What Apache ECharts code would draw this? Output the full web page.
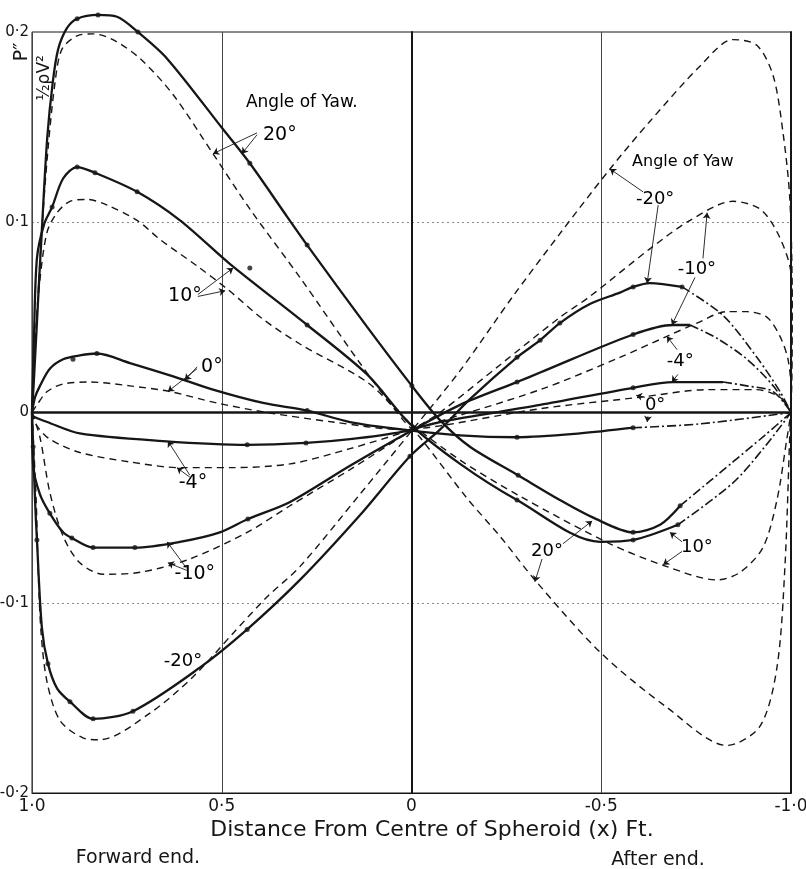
<!DOCTYPE html>
<html><head><meta charset="utf-8">
<script src="https://cdn.jsdelivr.net/npm/echarts@6/dist/echarts.min.js"></script>
<style>html,body{margin:0;padding:0;background:#fff}#c{width:806px;height:869px}</style>
</head><body><div id="c"></div>
<script>
// ---- axis ticks ----
const xTickValues = [1, 0.5, 0, -0.5, -1];
const xTickLabels = ['1·0', '0·5', '0', '-0·5', '-1·0'];
const yTickValues = [0.2, 0.1, 0, -0.1, -0.2];
const yTickLabels = ['0·2', '0·1', '0', '-0·1', '-0·2'];

// ---- +20° yaw ----
const pos20Exp = [[1,0],[0.995,0.017],[0.984,0.059],[0.974,0.096],[0.960,0.144],[0.945,0.174],[0.931,0.191],[0.908,0.202],[0.881,0.207],[0.826,0.209],[0.776,0.208],[0.721,0.200],[0.644,0.186],[0.497,0.149],[0.426,0.131],[0.328,0.103],[0.275,0.088],[0.117,0.045],[-0.001,0.014],[-0.075,-0.004],[-0.154,-0.018],[-0.281,-0.033],[-0.391,-0.046],[-0.476,-0.055],[-0.584,-0.063],[-0.655,-0.059],[-0.708,-0.049]];
const pos20ExpEnd = [[-0.708,-0.049],[-0.847,-0.026],[-0.931,-0.012],[-1,0]];
const pos20Pts = [[0.881,0.207],[0.826,0.209],[0.721,0.200],[0.426,0.131],[0.275,0.088],[-0.001,0.014],[-0.281,-0.033],[-0.584,-0.063],[-0.708,-0.049]];
const pos20Theory = [[1,0],[0.989,0.044],[0.974,0.096],[0.958,0.138],[0.939,0.174],[0.921,0.191],[0.881,0.198],[0.839,0.199],[0.787,0.196],[0.715,0.186],[0.628,0.167],[0.523,0.136],[0.426,0.107],[0.294,0.071],[0.136,0.026],[0.022,-0.004],[-0.022,-0.013],[-0.146,-0.045],[-0.233,-0.065],[-0.325,-0.088],[-0.497,-0.126],[-0.673,-0.155],[-0.831,-0.175],[-0.918,-0.165],[-0.963,-0.134],[-0.984,-0.081],[-0.997,-0.011],[-1,0]];

// ---- +10° yaw ----
const pos10Exp = [[1,0],[0.995,0.038],[0.987,0.081],[0.968,0.099],[0.947,0.108],[0.918,0.123],[0.881,0.129],[0.834,0.126],[0.723,0.116],[0.610,0.101],[0.478,0.078],[0.275,0.046],[0.117,0.020],[0.004,-0.006],[-0.128,-0.027],[-0.278,-0.046],[-0.497,-0.068],[-0.584,-0.067],[-0.702,-0.059]];
const pos10ExpEnd = [[-0.702,-0.059],[-0.847,-0.037],[-0.931,-0.018],[-1,0]];
const pos10Pts = [[0.947,0.108],[0.881,0.129],[0.834,0.126],[0.723,0.116],[0.426,0.076],[0.275,0.046],[-0.278,-0.046],[-0.584,-0.067],[-0.702,-0.059]];
const pos10Theory = [[1,0],[0.989,0.044],[0.979,0.070],[0.960,0.095],[0.934,0.105],[0.900,0.111],[0.855,0.112],[0.802,0.109],[0.723,0.101],[0.663,0.091],[0.565,0.077],[0.486,0.065],[0.391,0.049],[0.294,0.036],[0.117,0.016],[0.012,-0.004],[-0.128,-0.025],[-0.286,-0.044],[-0.523,-0.069],[-0.673,-0.081],[-0.805,-0.088],[-0.866,-0.084],[-0.926,-0.071],[-0.963,-0.046],[-0.989,-0.014],[-1,0]];

// ---- 0° yaw ----
const zeroExp = [[1,0],[0.992,0.008],[0.979,0.014],[0.953,0.023],[0.918,0.028],[0.874,0.030],[0.829,0.031],[0.742,0.026],[0.628,0.019],[0.523,0.012],[0.391,0.005],[0.275,0.001],[0.162,-0.005],[0.022,-0.009],[-0.128,-0.012],[-0.278,-0.013],[-0.444,-0.011],[-0.584,-0.008]];
const zeroExpEnd = [[-0.584,-0.008],[-0.760,-0.006],[-1,0]];
const zeroPts = [[0.892,0.028],[0.829,0.031],[0.275,0.001],[-0.278,-0.013],[-0.584,-0.008]];
const zeroTheory = [[1,0],[0.987,0.004],[0.960,0.011],[0.918,0.015],[0.847,0.016],[0.742,0.014],[0.636,0.011],[0.513,0.005],[0.381,0],[0.207,-0.005],[0.022,-0.009],[-0.075,-0.007],[-0.339,0.002],[-0.602,0.008],[-0.779,0.012],[-0.910,0.012],[-0.971,0.008],[-1,0]];

// ---- -4° yaw ----
const neg4Exp = [[1,0],[0.997,-0.002],[0.960,-0.005],[0.874,-0.011],[0.655,-0.015],[0.433,-0.017],[0.278,-0.016],[0.162,-0.014],[0.022,-0.010],[-0.075,-0.005],[-0.339,0.004],[-0.584,0.013],[-0.689,0.016],[-0.821,0.016]];
const neg4ExpEnd = [[-0.821,0.016],[-0.884,0.014],[-0.953,0.011],[-1,0]];
const neg4Pts = [[0.433,-0.017],[0.278,-0.016],[-0.584,0.013]];
const neg4Theory = [[1,0],[0.987,-0.007],[0.953,-0.014],[0.874,-0.021],[0.742,-0.026],[0.610,-0.029],[0.478,-0.029],[0.320,-0.027],[0.162,-0.019],[-0.003,-0.009],[-0.339,0.012],[-0.549,0.029],[-0.673,0.040],[-0.752,0.047],[-0.831,0.053],[-0.884,0.053],[-0.937,0.050],[-0.971,0.040],[-0.992,0.028],[-1,0.012],[-1,0]];

// ---- -10° yaw ----
const neg10Exp = [[1,0],[0.997,-0.028],[0.979,-0.043],[0.953,-0.053],[0.918,-0.063],[0.895,-0.066],[0.839,-0.071],[0.729,-0.071],[0.610,-0.068],[0.505,-0.063],[0.431,-0.056],[0.320,-0.047],[0.162,-0.028],[0.004,-0.010],[-0.128,0.004],[-0.278,0.016],[-0.339,0.021],[-0.584,0.041],[-0.689,0.046],[-0.734,0.046]];
const neg10ExpEnd = [[-0.734,0.046],[-0.805,0.039],[-0.884,0.028],[-0.953,0.014],[-1,0]];
const neg10Pts = [[0.953,-0.053],[0.895,-0.066],[0.839,-0.071],[0.729,-0.071],[0.431,-0.056],[-0.278,0.016],[-0.584,0.041]];
const neg10Theory = [[1,0],[0.979,-0.013],[0.953,-0.042],[0.918,-0.065],[0.874,-0.079],[0.813,-0.085],[0.715,-0.084],[0.584,-0.077],[0.433,-0.063],[0.320,-0.049],[0.162,-0.030],[-0.003,-0.009],[-0.075,0],[-0.233,0.025],[-0.391,0.050],[-0.470,0.061],[-0.628,0.086],[-0.734,0.101],[-0.847,0.111],[-0.918,0.107],[-0.963,0.095],[-0.997,0.077],[-1.003,0.059],[-1.002,0.028],[-1,0]];

// ---- -20° yaw ----
const neg20Exp = [[1,0],[0.997,-0.018],[0.992,-0.046],[0.987,-0.067],[0.974,-0.113],[0.958,-0.132],[0.934,-0.145],[0.900,-0.152],[0.839,-0.161],[0.734,-0.157],[0.557,-0.134],[0.433,-0.114],[0.294,-0.088],[0.136,-0.054],[0.004,-0.023],[-0.075,-0.009],[-0.154,0.007],[-0.278,0.029],[-0.339,0.038],[-0.391,0.047],[-0.470,0.057],[-0.549,0.063],[-0.584,0.066],[-0.628,0.068],[-0.713,0.066]];
const neg20ExpEnd = [[-0.713,0.066],[-0.821,0.051],[-0.910,0.029],[-0.971,0.011],[-1,0]];
const neg20Pts = [[0.997,-0.018],[0.987,-0.067],[0.958,-0.132],[0.900,-0.152],[0.839,-0.161],[0.734,-0.157],[0.433,-0.114],[0.004,-0.023],[-0.278,0.029],[-0.339,0.038],[-0.391,0.047],[-0.584,0.066],[-0.713,0.066]];
const neg20Theory = [[1,0],[0.989,-0.046],[0.984,-0.081],[0.976,-0.116],[0.960,-0.142],[0.926,-0.162],[0.866,-0.171],[0.821,-0.172],[0.689,-0.158],[0.576,-0.139],[0.470,-0.116],[0.381,-0.097],[0.294,-0.081],[0.136,-0.043],[-0.003,-0.009],[-0.128,0.022],[-0.267,0.061],[-0.391,0.094],[-0.523,0.128],[-0.628,0.153],[-0.760,0.182],[-0.847,0.196],[-0.910,0.193],[-0.953,0.177],[-0.979,0.147],[-0.997,0.112],[-1.003,0.059],[-1.002,0.017],[-1,0]];

// ---- annotations (data coordinates) ----
const noteTexts = ['Angle of Yaw.', '20°', 'Angle of Yaw', '-20°', '-10°', '-4°', '0°', '10°', '0°', '-4°', '-10°', '-20°', '20°', '10°'];
const noteX = [0.289, 0.347, -0.715, -0.642, -0.752, -0.708, -0.642, 0.597, 0.526, 0.576, 0.571, 0.602, -0.357, -0.752];
const noteY = [0.163, 0.146, 0.132, 0.112, 0.075, 0.027, 0.004, 0.061, 0.024, -0.037, -0.085, -0.131, -0.073, -0.071];
const noteSize = [17, 19, 16, 18, 18, 18, 18, 19, 19, 19, 19, 18, 18, 18];
const arrowFrom = [[0.407,0.147],[0.407,0.146],[0.563,0.062],[0.563,0.061],[0.565,0.024],[0.565,0.023],[0.584,-0.033],[0.584,-0.034],[0.592,-0.082],[0.592,-0.083],[-0.399,-0.069],[-0.344,-0.077],[-0.713,-0.068],[-0.713,-0.073],[-0.615,0.008],[-0.623,-0.002],[-0.700,0.033],[-0.702,0.020],[-0.768,0.081],[-0.747,0.071],[-0.610,0.116],[-0.650,0.109]];
const arrowTo = [[0.523,0.136],[0.447,0.136],[0.470,0.076],[0.491,0.064],[0.597,0.017],[0.642,0.011],[0.642,-0.015],[0.618,-0.029],[0.644,-0.068],[0.642,-0.079],[-0.476,-0.057],[-0.325,-0.089],[-0.681,-0.063],[-0.663,-0.080],[-0.592,0.009],[-0.621,-0.005],[-0.673,0.040],[-0.686,0.016],[-0.779,0.105],[-0.686,0.046],[-0.523,0.128],[-0.621,0.068]];

const INK = '#161616';
const FONT = 'DejaVu Sans';

function tickFmt(vals, labels) {
  return function (v) {
    for (let i = 0; i < vals.length; i++) if (Math.abs(v - vals[i]) < 1e-6) return labels[i];
    return '';
  };
}
function solidS(data, extra) {
  return Object.assign({ type: 'line', data: data, smooth: 0.3, showSymbol: false, clip: false, silent: true,
    lineStyle: { color: INK, width: 2.3 }, z: 5 }, extra || {});
}
function theoryS(data) {
  return { type: 'line', data: data, smooth: 0.3, showSymbol: false, clip: false, silent: true,
    lineStyle: { color: INK, width: 1.4, type: [7, 5] }, z: 4 };
}
function extS(data) {
  return { type: 'line', data: data, smooth: 0.3, showSymbol: false, clip: false, silent: true,
    lineStyle: { color: INK, width: 1.6, type: [9, 3, 2, 3] }, z: 4 };
}

const allPts = [].concat(pos20Pts, pos10Pts, zeroPts, neg4Pts, neg10Pts, neg20Pts);

const series = [
  solidS(pos20Exp, { markLine: { silent: true, symbol: 'none', label: { show: false },
    lineStyle: { color: INK, width: 2.6, type: 'solid' }, data: [{ yAxis: 0 }] } }),
  theoryS(pos20Theory), extS(pos20ExpEnd),
  solidS(pos10Exp), theoryS(pos10Theory), extS(pos10ExpEnd),
  solidS(zeroExp), theoryS(zeroTheory), extS(zeroExpEnd),
  solidS(neg4Exp), theoryS(neg4Theory), extS(neg4ExpEnd),
  solidS(neg10Exp), theoryS(neg10Theory), extS(neg10ExpEnd),
  solidS(neg20Exp), theoryS(neg20Theory), extS(neg20ExpEnd),
  { type: 'scatter', data: allPts, symbolSize: 5, silent: true, clip: false,
    itemStyle: { color: INK }, z: 6 },
  { type: 'lines', coordinateSystem: 'cartesian2d', silent: true, z: 7,
    symbol: ['none', 'arrow'], symbolSize: [0, 6],
    lineStyle: { color: INK, width: 0.9, opacity: 1 },
    data: arrowFrom.map((f, i) => ({ coords: [f, arrowTo[i]] })) },
  { type: 'scatter', silent: true, symbolSize: 0, z: 8, clip: false,
    itemStyle: { opacity: 1 },
    data: noteTexts.map((t, i) => ({ value: [noteX[i], noteY[i]],
      label: { show: true, position: 'inside', formatter: t, fontSize: noteSize[i],
        fontFamily: FONT, color: '#000', opacity: 1, textBorderWidth: 0 } })) }
];

const chart = echarts.init(document.getElementById('c'));
chart.setOption({
  backgroundColor: '#fff',
  animation: false,
  grid: { left: 32, right: 15, top: 32, bottom: 76, outerBoundsMode: 'none', containLabel: false,
    show: true, borderColor: INK, borderWidth: 1, backgroundColor: 'transparent' },
  xAxis: {
    type: 'value', min: -1, max: 1, interval: 0.5, inverse: true,
    axisLine: { show: true, onZero: false, lineStyle: { color: INK, width: 1.2 } },
    axisTick: { show: false },
    splitLine: { show: true, lineStyle: { color: '#444', width: 1 } },
    axisLabel: { formatter: tickFmt(xTickValues, xTickLabels), fontSize: 17, fontFamily: FONT, color: INK, margin: 5 }
  },
  yAxis: [{
    type: 'value', min: -0.2, max: 0.2, interval: 0.1,
    axisLine: { show: true, lineStyle: { color: INK, width: 2 } },
    axisTick: { show: false },
    splitLine: { show: true, lineStyle: { color: '#8a8a8a', width: 1, type: [2, 3] } },
    axisLabel: { formatter: tickFmt(yTickValues, yTickLabels), fontSize: 15, fontFamily: FONT, color: INK, margin: 3 }
  }, {
    type: 'value', min: -0.2, max: 0.2, interval: 0.1, position: 'right',
    axisLine: { show: true, lineStyle: { color: INK, width: 2 } },
    axisTick: { show: false }, splitLine: { show: false }, axisLabel: { show: false }
  }],
  graphic: [
    { type: 'text', x: 432, y: 830, style: { text: 'Distance From Centre of Spheroid (x) Ft.', fontSize: 22, fontFamily: FONT, fill: INK, textAlign: 'center', textVerticalAlign: 'middle' } },
    { type: 'text', x: 138, y: 858, style: { text: 'Forward end.', fontSize: 19, fontFamily: FONT, fill: INK, textAlign: 'center', textVerticalAlign: 'middle' } },
    { type: 'text', x: 658, y: 860, style: { text: 'After end.', fontSize: 19, fontFamily: FONT, fill: INK, textAlign: 'center', textVerticalAlign: 'middle' } },
    { type: 'text', x: 22, y: 52, rotation: Math.PI / 2, style: { text: 'P″', fontSize: 19, fontFamily: FONT, fill: INK, textAlign: 'center', textVerticalAlign: 'middle' } },
    { type: 'text', x: 45, y: 78, rotation: Math.PI / 2, style: { text: '½ρV²', fontSize: 17, fontFamily: FONT, fill: INK, textAlign: 'center', textVerticalAlign: 'middle' } }
  ],
  series: series
});
</script></body></html>
